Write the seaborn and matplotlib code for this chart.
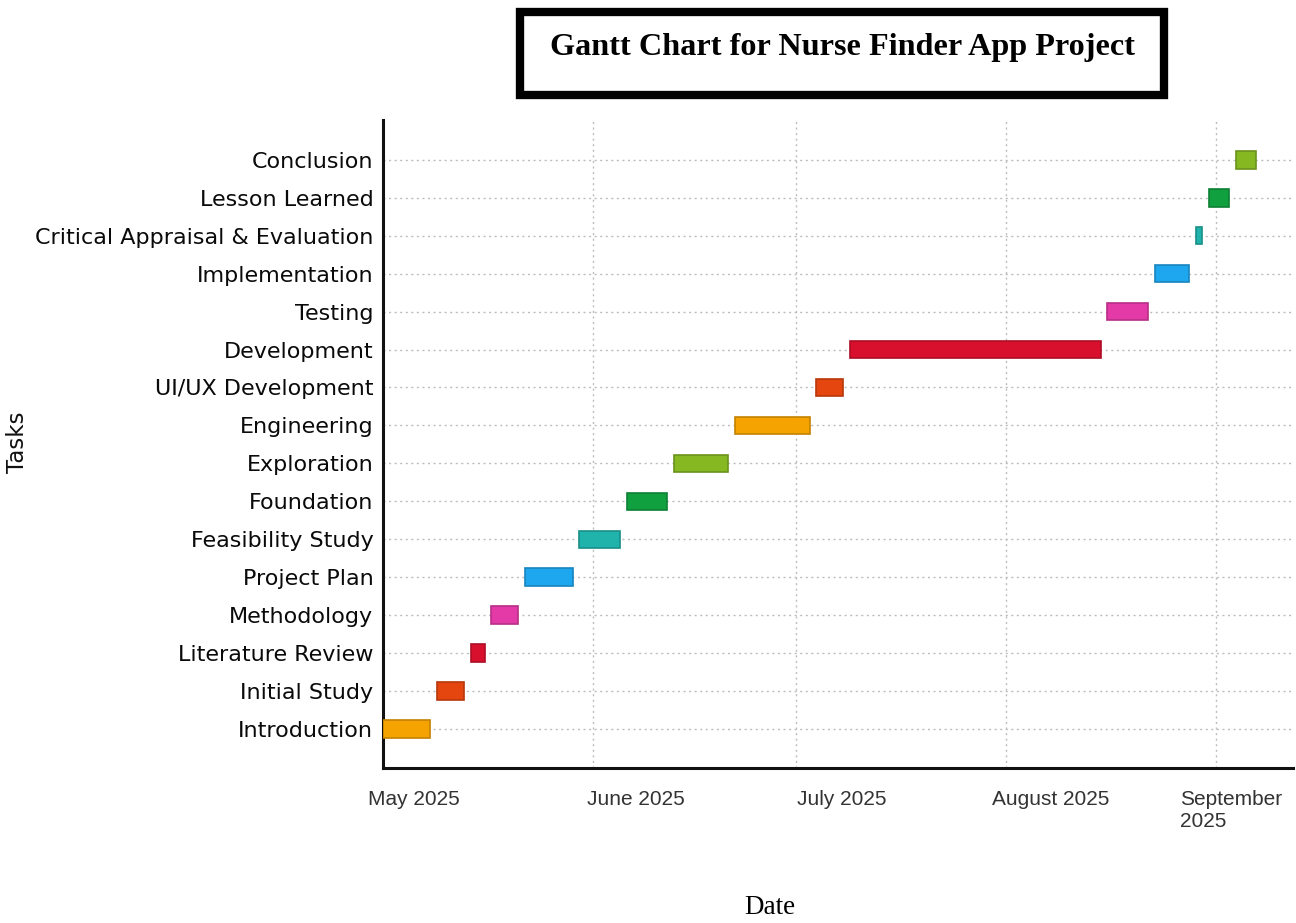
import matplotlib
matplotlib.use("Agg")
import matplotlib.pyplot as plt
import matplotlib.dates as mdates
import matplotlib.transforms as mtransforms
from matplotlib.patches import Rectangle
import seaborn as sns
import pandas as pd

# ---------------- data ----------------
tasks = ["Introduction", "Initial Study", "Literature Review", "Methodology",
         "Project Plan", "Feasibility Study", "Foundation", "Exploration",
         "Engineering", "UI/UX Development", "Development", "Testing",
         "Implementation", "Critical Appraisal & Evaluation", "Lesson Learned",
         "Conclusion"]
start_dates = ["2025-05-01", "2025-05-09", "2025-05-14", "2025-05-17",
               "2025-05-22", "2025-05-30", "2025-06-06", "2025-06-13",
               "2025-06-22", "2025-07-04", "2025-07-09", "2025-08-16",
               "2025-08-23", "2025-08-29", "2025-08-31", "2025-09-04"]
end_dates = ["2025-05-08", "2025-05-13", "2025-05-16", "2025-05-21",
             "2025-05-29", "2025-06-05", "2025-06-12", "2025-06-21",
             "2025-07-03", "2025-07-08", "2025-08-15", "2025-08-22",
             "2025-08-28", "2025-08-30", "2025-09-03", "2025-09-07"]
month_ticks = ["2025-05-01", "2025-06-01", "2025-07-01", "2025-08-01", "2025-09-01"]
month_labels = ["May 2025", "June 2025", "July 2025", "August 2025", "September\n2025"]
bar_colors = ["#f5a300", "#e5460f", "#d8102e", "#e43aa8",
              "#1ea6ee", "#1fb3ab", "#10a040", "#86b822"]

title = "Gantt Chart for Nurse Finder App Project"

# ---------------- figure ----------------
sns.set_theme(style="white")
plt.rcParams["font.family"] = ["DejaVu Sans"]

fig = plt.figure(figsize=(12.96, 9.23), dpi=100)
ax = fig.add_axes([383 / 1296, 1 - 768 / 923, (1293 - 383) / 1296, (768 - 120) / 923])

df = pd.DataFrame({"task": tasks,
                   "start": pd.to_datetime(start_dates),
                   "end": pd.to_datetime(end_dates)})
df["s"] = mdates.date2num(df["start"])
df["d"] = mdates.date2num(df["end"]) - df["s"]

palette = sns.color_palette(bar_colors)
cols = [palette[i % len(palette)] for i in range(len(df))]
edge = [tuple(c * 0.8 for c in col) for col in cols]
ax.barh(range(len(df)), df["d"], left=df["s"], height=0.46,
        color=cols, edgecolor=edge, linewidth=1.2, zorder=3)

ax.set_yticks(range(len(df)))
ax.set_yticklabels(tasks, fontsize=16, color="#0a0a0a")
ax.set_ylim(-1.03, len(df) - 1 + 1.05)

x0 = mdates.date2num(pd.Timestamp("2025-05-01"))
ax.set_xlim(x0, x0 + 134.4)
tick_pos = mdates.date2num(pd.to_datetime(month_ticks))
ax.set_xticks(tick_pos)
ax.set_xticklabels([])

# month labels, left-aligned with small pixel shifts as in the reference
offsets_px = [-15, -6, 1, -14, -36]
for pos, lab, off in zip(tick_pos, month_labels, offsets_px):
    tr = mtransforms.blended_transform_factory(ax.transData, ax.transAxes) + \
        mtransforms.ScaledTranslation(off / 100, -22 / 100, fig.dpi_scale_trans)
    ax.text(pos, 0, lab, transform=tr, ha="left", va="top", fontsize=15,
            family=["Liberation Sans"], color="#333333", linespacing=1.2)

ax.tick_params(axis="x", direction="in", length=5, width=1.5, colors="#222222")
ax.tick_params(axis="y", direction="in", length=5, width=1.2, pad=7, colors="#222222",
               labelcolor="#0a0a0a")

ax.grid(True, which="major", axis="both", linestyle=(0, (1.5, 2.5)),
        color="#bdbdbd", linewidth=1.0, zorder=0)
ax.set_axisbelow(True)
for side in ["top", "right"]:
    ax.spines[side].set_visible(False)
for side in ["left", "bottom"]:
    ax.spines[side].set_color("#111111")
    ax.spines[side].set_linewidth(2.2)

# axis labels
fig.text(18 / 1296, 1 - 442 / 923, "Tasks", rotation=90, ha="center", va="center",
         fontsize=16.5, color="#111111")
fig.text(770 / 1296, 1 - 907 / 923, "Date", ha="center", va="center",
         fontsize=19.5, family=["Liberation Serif"], color="black")

# boxed title
fig.patches.append(Rectangle((520 / 1296, 1 - 95 / 923), 644 / 1296, 83 / 923,
                             transform=fig.transFigure, fill=False,
                             edgecolor="black", linewidth=6))
fig.text(843 / 1296, 1 - 48 / 923, title, ha="center", va="center",
         fontsize=23.2, fontweight="bold", family=["Liberation Serif"], color="black")

fig.savefig("out.png", dpi=100, facecolor="white")
